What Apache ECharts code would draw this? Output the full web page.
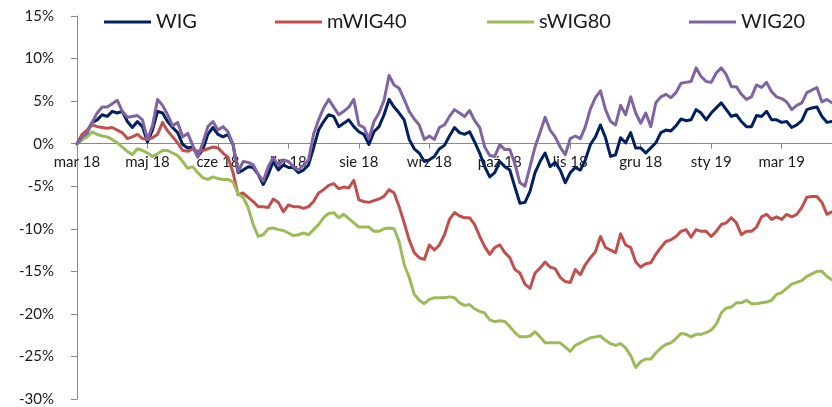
<!DOCTYPE html>
<html>
<head>
<meta charset="utf-8">
<title>WIG, mWIG40, sWIG80, WIG20</title>
<script src="https://cdn.jsdelivr.net/npm/echarts@6.0.0/dist/echarts.min.js"></script>
<style>
  html, body { margin: 0; padding: 0; background: #fff; }
  #chart { width: 832px; height: 407px; }
</style>
</head>
<body>
<div id="chart"></div>
<script>
// etykiety osi X (co 14 notowań)
const tickLabels = ['mar 18', 'maj 18', 'cze 18', 'lip 18', 'sie 18', 'wrz 18', 'paź 18', 'lis 18', 'gru 18', 'sty 19', 'mar 19'];
const POINTS_PER_TICK = 14;

// stopy zwrotu w %
const wig = [0.0,0.5,1.4,2.5,2.8,3.4,3.2,3.8,3.6,3.8, 2.6,1.9,2.6,2.0,0.2,1.6,3.8,3.6,2.6,1.9,
  1.3,-0.1,-0.5,-0.4,-1.5,-0.7,1.1,1.9,1.1,0.8, 1.1,-0.1,-3.4,-3.1,-2.7,-2.8,-3.6,-4.8,-3.6,-2.1,
  -3.1,-2.5,-2.8,-2.8,-3.4,-3.1,-2.5,-0.5,1.6,2.6, 3.4,3.2,2.0,2.4,2.8,2.0,1.4,1.1,-0.1,1.4,
  2.0,3.4,5.2,4.3,3.6,2.8,0.5,-0.6,-1.1,-2.1, -1.9,-1.5,-0.6,-0.2,0.9,1.9,1.3,1.1,1.4,0.2,
  -1.1,-2.7,-3.9,-3.4,-2.1,-2.7,-3.1,-5.1,-7.0,-6.9, -5.6,-3.4,-2.1,-1.1,-2.7,-2.2,-3.1,-4.6,-3.4,-2.8,
  -3.1,-1.9,-0.1,0.8,2.2,0.7,-1.5,-1.3,0.7,0.1, 1.3,-0.5,-0.5,-1.1,-0.5,0.1,1.3,1.6,1.5,2.1,
  2.9,2.7,2.8,4.0,3.6,2.8,3.6,4.2,4.8,4.0, 3.2,3.4,2.6,2.0,2.0,3.3,3.2,3.8,2.8,2.8,
  2.5,2.6,1.9,2.2,2.7,4.0,4.2,4.3,3.2,2.5, 2.6];
const mwig40 = [0.0,1.1,1.6,2.2,2.0,1.9,1.8,1.9,1.6,1.3, 0.6,0.8,1.1,0.6,0.5,0.7,1.1,2.5,1.5,0.8,
  0.1,-0.8,-0.9,-0.6,-0.9,-0.8,-0.6,-0.4,-0.5,-1.1, -1.6,-3.4,-6.0,-5.8,-6.3,-6.8,-7.4,-7.4,-7.5,-6.5,
  -6.9,-8.0,-7.2,-7.4,-7.4,-7.6,-7.4,-6.8,-5.8,-5.4, -4.9,-4.7,-5.3,-5.1,-5.2,-4.3,-6.6,-6.8,-6.9,-6.7,
  -6.5,-6.2,-5.4,-5.8,-7.4,-9.3,-11.3,-12.8,-13.4,-13.6, -11.9,-12.5,-11.9,-10.7,-8.9,-8.1,-8.5,-8.7,-8.7,-9.5,
  -10.9,-12.1,-13.0,-12.2,-11.9,-12.8,-13.4,-14.8,-15.2,-16.5, -17.0,-15.2,-14.6,-13.9,-14.5,-14.7,-15.7,-16.2,-16.3,-14.8,
  -15.4,-14.2,-13.4,-12.7,-10.9,-12.2,-12.5,-12.8,-10.6,-11.9, -12.2,-13.9,-14.5,-14.1,-14.0,-13.0,-12.2,-11.5,-11.3,-10.9,
  -10.3,-10.1,-11.0,-10.1,-10.3,-10.3,-10.9,-10.3,-9.5,-9.3, -8.7,-9.3,-10.7,-10.3,-10.3,-9.8,-8.6,-8.3,-8.9,-8.6,
  -8.9,-8.3,-8.6,-8.3,-7.5,-6.3,-6.2,-6.2,-6.9,-8.3, -8.0];
const swig80 = [0.0,0.5,0.8,1.4,1.1,0.9,0.8,0.5,0.1,-0.4, -0.9,-1.3,-0.6,-0.8,-1.1,-1.5,-1.2,-0.8,-0.8,-1.1,
  -1.4,-2.1,-2.9,-2.7,-3.4,-4.0,-4.2,-3.9,-4.1,-4.2, -4.2,-4.5,-5.9,-6.3,-7.5,-9.5,-10.9,-10.7,-10.0,-9.9,
  -10.1,-10.2,-10.5,-10.8,-10.7,-10.5,-10.7,-10.1,-9.5,-8.7, -8.2,-8.1,-8.7,-8.3,-8.8,-9.3,-9.8,-9.8,-9.8,-10.3,
  -10.3,-10.0,-9.9,-10.0,-11.5,-14.2,-15.7,-17.7,-18.4,-18.8, -18.3,-18.1,-18.1,-18.1,-18.0,-18.1,-18.7,-19.0,-18.9,-19.4,
  -19.7,-19.9,-20.7,-20.9,-20.8,-20.9,-21.5,-22.2,-22.7,-22.7, -22.6,-22.1,-22.7,-23.4,-23.4,-23.4,-23.4,-23.9,-24.4,-23.7,
  -23.4,-23.1,-22.8,-22.7,-22.6,-23.1,-23.5,-23.7,-23.5,-24.0, -24.9,-26.3,-25.6,-25.3,-25.3,-24.6,-24.0,-23.6,-23.4,-22.9,
  -22.3,-22.4,-22.7,-22.4,-22.4,-22.2,-21.9,-21.2,-19.9,-19.3, -19.2,-18.7,-18.7,-18.4,-18.8,-18.8,-18.7,-18.6,-18.4,-17.7,
  -17.5,-17.0,-16.5,-16.3,-16.1,-15.6,-15.3,-15.0,-15.0,-15.6, -16.0];
const wig20 = [0.0,0.8,1.2,2.5,3.6,4.3,4.3,4.7,5.1,3.8, 3.1,3.2,3.3,2.8,0.5,2.1,5.2,4.5,3.4,2.1,
  2.5,0.8,1.2,-0.2,-1.6,0.1,2.0,2.6,1.6,2.0, 1.4,-0.1,-3.3,-2.1,-2.2,-2.5,-3.6,-4.4,-2.7,-1.6,
  -2.6,-1.9,-2.1,-2.7,-3.1,-2.5,-1.9,1.1,2.8,4.2, 5.2,4.3,3.4,3.8,4.3,5.2,2.2,1.9,0.6,2.6,
  3.6,5.1,8.0,6.9,6.5,5.2,3.8,2.9,2.2,0.5, 0.9,0.5,1.9,2.2,3.2,4.0,3.6,3.2,3.9,2.7,
  1.9,-0.4,-1.4,-1.5,-0.1,-0.7,-0.7,-2.4,-4.6,-5.0, -2.7,-0.4,1.3,3.1,1.6,0.8,-0.4,-1.3,0.6,0.9,
  0.6,2.0,4.1,5.4,6.2,4.0,2.6,2.2,4.5,3.4, 5.5,3.6,2.4,3.6,2.0,4.8,5.5,5.8,5.4,6.0,
  7.1,7.2,7.3,8.9,7.9,7.3,7.2,8.3,8.9,8.1, 6.7,6.7,5.8,5.2,5.5,6.9,6.6,7.2,6.1,5.5,
  5.3,4.9,4.0,4.5,4.8,6.0,6.3,6.6,4.9,5.2, 4.8];

const days = wig.map((_, i) => i);

const Y_MIN = -30;
const Y_MAX = 15;

const font = 'Lato, "Open Sans", sans-serif';
const axisGray = '#898989';
const textColor = '#1a1a1a';

const seriesDefs = [
  { name: 'WIG', data: wig, color: '#002060' },
  { name: 'mWIG40', data: mwig40, color: '#c0504d' },
  { name: 'sWIG80', data: swig80, color: '#9bbb59' },
  { name: 'WIG20', data: wig20, color: '#8064a2' }
];
const legendLeft = [104, 275, 487, 689];

const gridTop = 16;
const gridBottom = 8;
const chartHeight = 407;
// oś X przecina oś Y w zerze (jak w Excelu) - przesunięcie od dołu siatki
const plotH = chartHeight - gridTop - gridBottom;
const zeroOffset = -plotH * (0 - Y_MIN) / (Y_MAX - Y_MIN);

const chart = echarts.init(document.getElementById('chart'), null, { renderer: 'canvas' });

const option = {
  animation: false,
  backgroundColor: '#fff',
  textStyle: { fontFamily: font },
  legend: seriesDefs.map((s, i) => ({
    data: [s.name],
    left: legendLeft[i],
    top: 12,
    padding: 0,
    icon: 'rect',
    itemWidth: 47,
    itemHeight: 3,
    itemGap: 5,
    textStyle: { fontSize: 20, color: textColor, fontFamily: font }
  })),
  grid: {
    left: 77,
    right: 0,
    top: gridTop,
    bottom: gridBottom,
    containLabel: false,
    outerBoundsMode: 'none'
  },
  xAxis: {
    type: 'category',
    data: days,
    boundaryGap: false,
    position: 'bottom',
    offset: zeroOffset,
    axisLine: { onZero: false, lineStyle: { color: axisGray, width: 1 } },
    axisTick: { show: true, interval: POINTS_PER_TICK - 1, length: 5, lineStyle: { color: axisGray } },
    axisLabel: {
      interval: POINTS_PER_TICK - 1,
      margin: 11,
      fontSize: 15,
      color: textColor,
      fontFamily: font,
      formatter: (v, idx) => idx % POINTS_PER_TICK === 0 ? (tickLabels[idx / POINTS_PER_TICK] || '') : ''
    },
    splitLine: { show: false }
  },
  yAxis: {
    type: 'value',
    min: Y_MIN,
    max: Y_MAX,
    interval: 5,
    axisLine: { show: true, lineStyle: { color: axisGray, width: 1 } },
    axisTick: { show: true, length: 6, lineStyle: { color: axisGray } },
    axisLabel: {
      formatter: '{value}%',
      margin: 23,
      fontSize: 15,
      color: textColor,
      fontFamily: font
    },
    splitLine: { show: false }
  },
  series: seriesDefs.map(s => ({
    name: s.name,
    type: 'line',
    data: s.data,
    showSymbol: false,
    symbol: 'none',
    color: s.color,
    lineStyle: { width: 3, color: s.color, join: 'round', cap: 'round' }
  }))
};

chart.setOption(option);
</script>
</body>
</html>
